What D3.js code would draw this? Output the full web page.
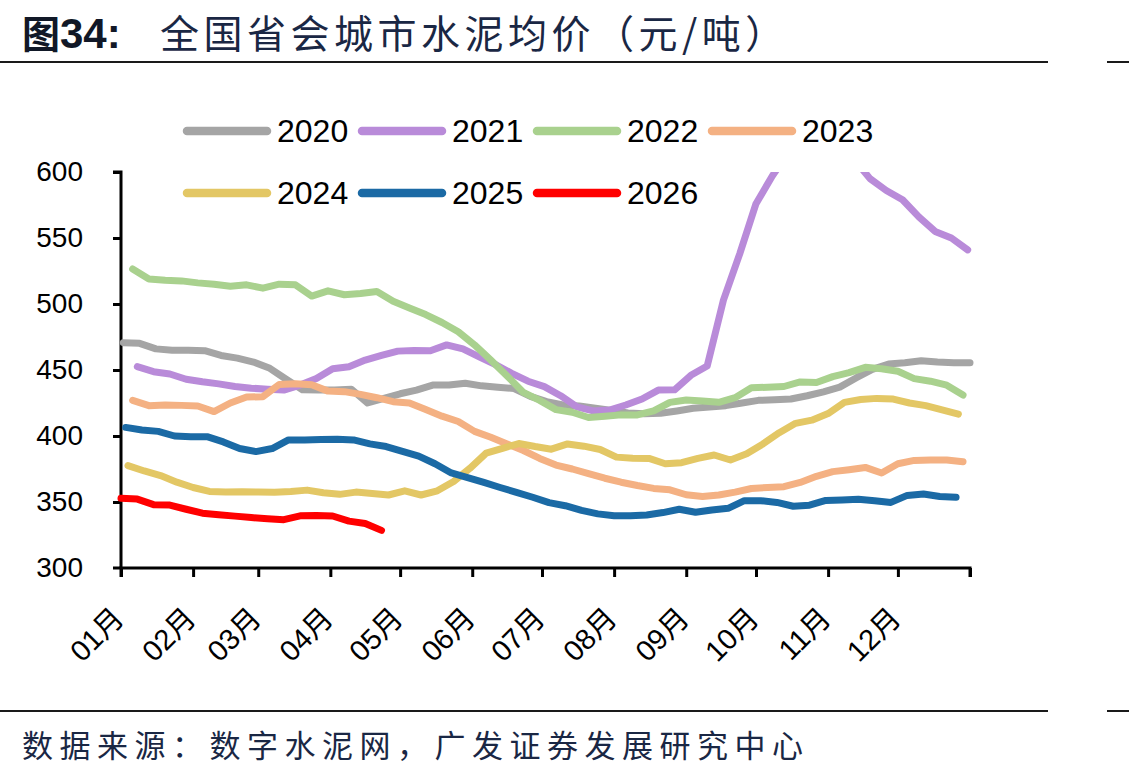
<!DOCTYPE html>
<html>
<head>
<meta charset="utf-8">
<title>全国省会城市水泥均价</title>
<script src="https://d3js.org/d3.v7.min.js"></script>
<style>
  body { margin: 0; background: #fff; }
  svg { display: block; }
</style>
</head>
<body>
<div id="chart"></div>
<script>
// weekly series, values (元/吨)
var years = ["2020", "2021", "2022", "2023", "2024", "2025", "2026"];
var colors = ["#a5a5a5", "#b98bd9", "#a9d18e", "#f4b183", "#e3c765", "#1b6aa5", "#ff0000"];
// day of year of the first weekly point for each series
var startDays = [1, 7, 5, 5, 3, 2, 0];

var v2020 = [470.7, 470.2, 466, 465, 465, 464.6, 461, 459, 456, 451.3, 443, 435, 434.8, 434.8, 435.5, 425, 428.5, 432, 434.8, 438.6,
  438.6, 440, 438, 437, 436, 430, 426, 423.5, 422.7, 421, 419.3, 417.5, 416.8, 417.2, 419, 421, 422, 423, 425, 427,
  427.5, 428, 430.5, 433.5, 437, 444, 450.5, 454.5, 455.5, 457, 456, 455.5, 455.5];
var v2021 = [452.5, 448.7, 447, 443, 441.1, 439.5, 437.5, 436.2, 435.5, 434.8, 438.6, 443.5, 451, 452.5, 457.5, 461, 464.3, 464.8, 464.6, 469,
  466, 460, 454, 447.5, 441.5, 437.4, 430.5, 422, 419, 419.7, 423.5, 428, 434.8, 435, 446, 453, 503, 538, 576, 597,
  615, 628, 632, 625, 610, 595, 586, 579, 566, 555, 550, 541];
var v2022 = [526.5, 519, 518, 517.5, 516, 515, 513.5, 514.5, 512, 515, 514.5, 506, 510, 507, 508, 509.5, 502, 497, 492, 486,
  479, 469, 457.5, 445.5, 433, 427, 420, 418, 414, 415, 416, 416, 419, 425.5, 427.3, 426.5, 425.5, 429, 436.5, 437,
  437.5, 441, 440.5, 445, 448, 452, 451, 449, 443.5, 441.5, 438.5, 431];
var v2023 = [427, 423, 423.5, 423.2, 422.7, 418.5, 425, 429.5, 429.8, 439, 439.5, 438.8, 434, 433.6, 431.5, 429, 426, 425, 420, 415,
  411, 403.5, 399, 394, 389, 383, 378, 375, 371.5, 368, 365, 362.5, 360.3, 359.2, 355.5, 354.2, 355.3, 357.5, 360.2, 361,
  361.6, 364.8, 369.5, 373, 374.5, 376.2, 372, 379, 381.5, 381.8, 381.8, 380.5];
var v2024 = [377.5, 373.5, 370, 365, 361, 358, 357.5, 357.8, 357.5, 357.3, 358, 359, 357, 355.8, 357.5, 356.5, 355.3, 358.5, 355.3, 358.5,
  365.5, 375.5, 387, 390.7, 394.3, 392, 390, 394, 392.3, 389.8, 384, 383.1, 383, 379, 379.8, 383, 385.6, 381.8, 386.5, 394,
  402.5, 409.6, 412, 417, 425.5, 427.6, 428.5, 428, 425, 423, 419.8, 416.5];
var v2025 = [406.5, 404.5, 403.5, 400, 399.5, 399.5, 395.5, 390.5, 388.2, 390.5, 397, 397, 397.3, 397.5, 397, 394, 392, 388.3, 384.8, 379,
  372, 368.5, 364.8, 361, 357.3, 353.6, 349.5, 347.2, 343.6, 341, 339.6, 339.5, 340.2, 342, 344.5, 342.2, 344, 345.2, 351, 351,
  349.7, 346.8, 347.6, 351.2, 351.5, 352, 351, 349.7, 355, 356, 354.2, 353.6];
var v2026 = [352.8, 352.2, 348, 347.7, 344.5, 341.5, 340.3, 339.3, 338.2, 337.3, 336.6, 339.5, 339.8, 339.4, 335.5, 333.7, 328.5];

var seriesValues = [v2020, v2021, v2022, v2023, v2024, v2025, v2026];

var monthStarts = [0, 31, 59, 90, 120, 151, 181, 212, 243, 273, 304, 334, 365];
var monthLabels = ["01月", "02月", "03月", "04月", "05月", "06月", "07月", "08月", "09月", "10月", "11月", "12月", ""];
var yTicks = [300, 350, 400, 450, 500, 550, 600];

var W = 1129, H = 779;
var margin = {top: 172, left: 121, right: 159, bottom: 211},
    width = W - margin.left - margin.right,
    height = H - margin.top - margin.bottom;

var svg = d3.select("#chart").append("svg")
    .attr("width", W)
    .attr("height", H);

// title
var title = svg.append("text")
    .attr("x", 22)
    .attr("y", 48)
    .attr("fill", "#111827");
title.append("tspan")
    .attr("font-family", "'Noto Sans CJK SC'")
    .attr("font-weight", "bold")
    .attr("font-size", 38)
    .text("图");
title.append("tspan")
    .attr("font-family", "'Liberation Sans', Arial")
    .attr("font-weight", "bold")
    .attr("font-size", 42)
    .text("34:");
svg.append("text")
    .attr("x", 160)
    .attr("y", 48)
    .attr("fill", "#1a2744")
    .attr("font-family", "'Noto Sans CJK SC'")
    .attr("font-size", 39)
    .attr("letter-spacing", 4.5)
    .text("全国省会城市水泥均价（元/吨）");

// frame lines
[62, 711].forEach(function(yy) {
  svg.append("line").attr("x1", 0).attr("x2", 1048).attr("y1", yy).attr("y2", yy)
      .attr("stroke", "#1a1a1a").attr("stroke-width", 2);
  svg.append("line").attr("x1", 1107).attr("x2", 1129).attr("y1", yy).attr("y2", yy)
      .attr("stroke", "#1a1a1a").attr("stroke-width", 2);
});

// footer
svg.append("text")
    .attr("x", 22)
    .attr("y", 757)
    .attr("fill", "#1a2744")
    .attr("font-family", "'Noto Sans CJK SC'")
    .attr("font-size", 31)
    .attr("letter-spacing", 6.5)
    .text("数据来源：数字水泥网，广发证券发展研究中心");

var g = svg.append("g")
    .attr("transform", "translate(" + margin.left + "," + margin.top + ")");

var x = d3.scaleLinear().domain([0, 365]).range([0, width]);
var y = d3.scaleLinear().domain([300, 600]).range([height, 0]);

g.append("clipPath").attr("id", "plot-clip")
  .append("rect").attr("x", -10).attr("y", 0).attr("width", width + 20).attr("height", height);

var line = d3.line()
    .x(function(d) { return x(d.day); })
    .y(function(d) { return y(d.value); });

var series = years.map(function(yr, i) {
  return {
    name: yr,
    color: colors[i],
    points: seriesValues[i].map(function(v, k) { return {day: startDays[i] + 7 * k, value: v}; })
  };
});

// y axis
var yAxis = g.append("g")
    .call(d3.axisLeft(y).tickValues(yTicks).tickSize(8).tickPadding(30).tickFormat(d3.format("d")));
// x axis
var xAxis = g.append("g")
    .attr("transform", "translate(0," + height + ")")
    .call(d3.axisBottom(x).tickValues(monthStarts).tickSize(9).tickFormat(function(d, i) { return monthLabels[i]; }));

[yAxis, xAxis].forEach(function(ax) {
  ax.select(".domain").attr("stroke", "#000").attr("stroke-width", 3);
  ax.selectAll(".tick line").attr("stroke", "#000").attr("stroke-width", 3);
});
yAxis.select(".domain").attr("d", "M-8," + height + "H0V0H-8");
xAxis.select(".domain").attr("d", "M0,9V0H" + width + "V9");
yAxis.selectAll(".tick line").filter(function(d) { return d === 300; }).remove();
yAxis.selectAll(".tick text")
    .attr("font-family", "'Liberation Sans', Arial")
    .attr("font-size", 28)
    .attr("fill", "#000");
xAxis.selectAll(".tick text")
    .attr("font-family", "'Liberation Sans', Arial, 'Noto Sans CJK SC'")
    .attr("font-size", 29)
    .attr("fill", "#000")
    .attr("text-anchor", "end")
    .attr("dy", null)
    .attr("y", null)
    .attr("transform", "translate(4,52) rotate(-45)");

// lines
g.append("g").attr("clip-path", "url(#plot-clip)")
  .selectAll("path")
  .data(series)
  .enter().append("path")
    .attr("d", function(d) { return line(d.points); })
    .attr("fill", "none")
    .attr("stroke", function(d) { return d.color; })
    .attr("stroke-width", 7)
    .attr("stroke-linejoin", "round")
    .attr("stroke-linecap", "round");

// legend
var legend = svg.append("g");
var item = legend.selectAll("g")
    .data(series)
  .enter().append("g")
    .attr("transform", function(d, i) {
      return "translate(" + (187 + (i % 4) * 175) + "," + (131 + Math.floor(i / 4) * 62) + ")";
    });
item.append("line")
    .attr("x1", 0).attr("x2", 80)
    .attr("stroke", function(d) { return d.color; })
    .attr("stroke-width", 8.5)
    .attr("stroke-linecap", "round");
item.append("text")
    .attr("x", 90)
    .attr("y", 11)
    .attr("font-family", "'Liberation Sans', Arial")
    .attr("font-size", 32)
    .attr("fill", "#000")
    .text(function(d) { return d.name; });
</script>
</body>
</html>
